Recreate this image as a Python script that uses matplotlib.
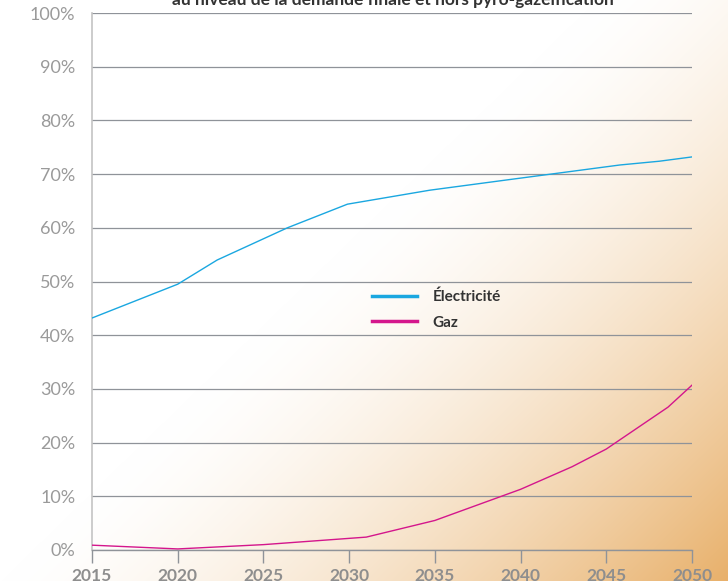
import numpy as np
import matplotlib.pyplot as plt
from matplotlib.ticker import MultipleLocator, FuncFormatter

# data
elec_years = [2015, 2020, 2022.3, 2026.4, 2029.9, 2034.7, 2039.4, 2045.8, 2048.1, 2050]
elec_vals = [43.2, 49.5, 54.0, 60.0, 64.4, 67.0, 69.0, 71.7, 72.4, 73.2]

gaz_years = [2015, 2020, 2025, 2031, 2035, 2040, 2043, 2045, 2048.6, 2050]
gaz_vals = [0.9, 0.2, 1.0, 2.4, 5.5, 11.3, 15.5, 18.8, 26.6, 30.7]

x_ticks = [2015, 2020, 2025, 2030, 2035, 2040, 2045, 2050]

plt.rcParams['font.family'] = ['Lato', 'DejaVu Sans']

fig = plt.figure(figsize=(7.28, 5.81), dpi=100)

# background: white fading to orange at the bottom right
bg = fig.add_axes([0, 0, 1, 1])
h, w = 581, 728
yy, xx = np.mgrid[0:h, 0:w]
s = 0.55 * (xx / w) + 0.45 * (yy / h)
t = np.clip((s - 0.45) / 0.55, 0, 1) ** 1.5
white = np.array([1.0, 1.0, 1.0])
orange = np.array([232, 176, 106]) / 255
img = white[None, None, :] * (1 - t[..., None]) + orange[None, None, :] * t[..., None]
bg.imshow(img, aspect='auto', extent=[0, 1, 0, 1], origin='upper')
bg.axis('off')

fig.text(0.539, 1.0, "au niveau de la demande finale et hors pyro-gazéification",
         ha='center', va='center', fontsize=12.5, fontweight='bold', color='#333333')

ax = fig.add_axes([92 / 728, 1 - 550 / 581, 600 / 728, 537 / 581])
ax.patch.set_alpha(0)

ax.plot(elec_years, elec_vals, color='#1aa7e0', lw=1.0, label='Électricité', zorder=3)
ax.plot(gaz_years, gaz_vals, color='#d4168c', lw=1.0, label='Gaz', zorder=3)

ax.set_xlim(2015, 2050)
ax.set_ylim(0, 100)
ax.yaxis.set_major_locator(MultipleLocator(10))
ax.yaxis.set_major_formatter(FuncFormatter(lambda v, p: f"{int(v)}%"))
ax.set_xticks(x_ticks)

ax.grid(axis='y', color='#8f9399', lw=0.9)
ax.set_axisbelow(True)
for sp in ['top', 'right']:
    ax.spines[sp].set_visible(False)
ax.spines['left'].set_color('#c4c4c4')
ax.spines['left'].set_linewidth(1.2)
ax.spines['bottom'].set_color('#8f9399')
ax.spines['bottom'].set_linewidth(1.0)

ax.tick_params(axis='y', length=0, pad=12, labelsize=13, labelcolor='#9a9a9a')
ax.tick_params(axis='x', direction='out', length=9, color='#8f9399', width=1,
               pad=4, labelsize=12.5, labelcolor='#8e8e8e')
for lab in ax.get_xticklabels():
    lab.set_fontweight('bold')

leg = ax.legend(loc='upper left', bbox_to_anchor=(0.443, 0.51), frameon=False,
                fontsize=11, handlelength=3.0, handletextpad=1.0, labelspacing=0.75)
for txt in leg.get_texts():
    txt.set_fontweight('bold')
    txt.set_color('#333333')
for line in leg.get_lines():
    line.set_linewidth(2.5)

fig.savefig('out.png', dpi=100)
